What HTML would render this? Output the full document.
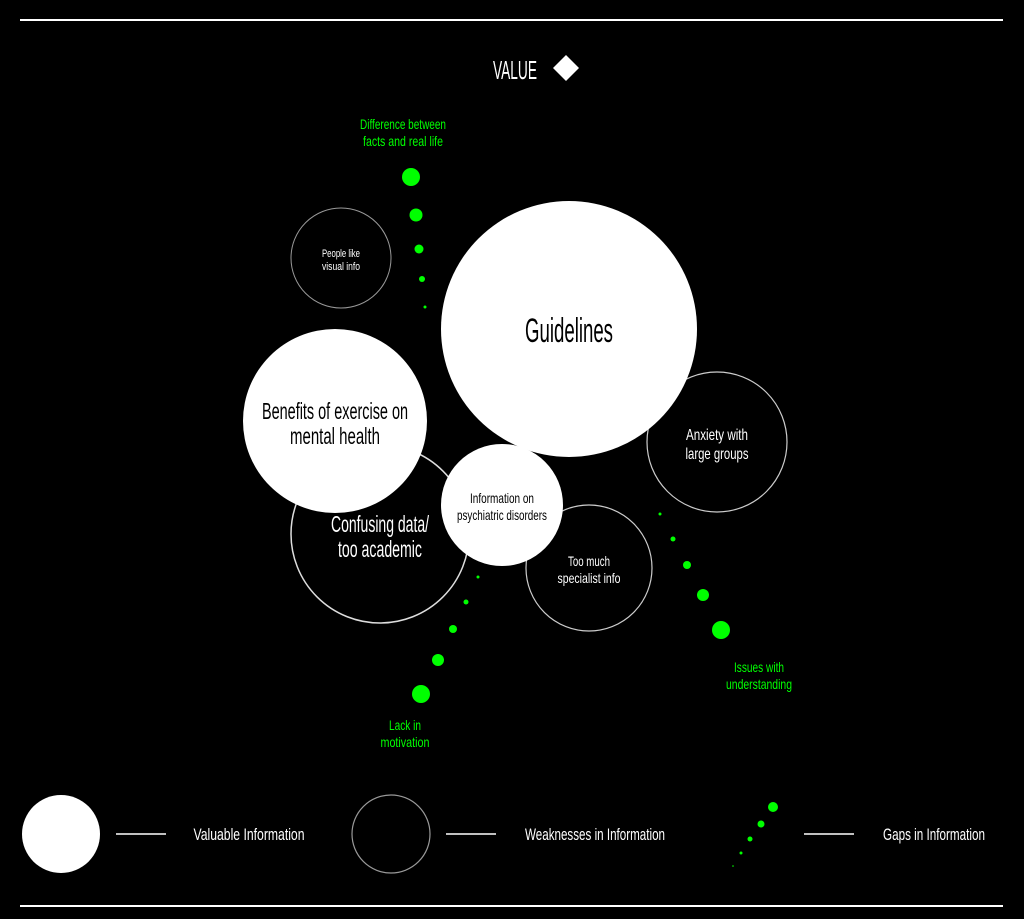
<!DOCTYPE html>
<html><head><meta charset="utf-8"><style>
html,body{margin:0;padding:0;background:#000;}
svg{display:block;}
text{font-family:"Liberation Sans Narrow","Liberation Sans",sans-serif;text-anchor:middle;}
</style></head><body>
<svg width="1024" height="919" viewBox="0 0 1024 919" xmlns="http://www.w3.org/2000/svg">
<rect width="1024" height="919" fill="#000"/>
<line x1="20" y1="20" x2="1003" y2="20" stroke="#fff" stroke-width="2"/>
<line x1="20" y1="906" x2="1003" y2="906" stroke="#fff" stroke-width="2"/>
<text x="515" y="79" fill="#fff" font-size="26" textLength="44" lengthAdjust="spacingAndGlyphs">VALUE</text>
<polygon points="566,55 579,68 566,81 553,68" fill="#fff"/>

<g fill="#00ff00" font-size="14">
<text x="403" y="129" textLength="86" lengthAdjust="spacingAndGlyphs">Difference between</text>
<text x="403" y="146" textLength="80" lengthAdjust="spacingAndGlyphs">facts and real life</text>
<text x="405" y="730" textLength="32" lengthAdjust="spacingAndGlyphs">Lack in</text>
<text x="405" y="747" textLength="49" lengthAdjust="spacingAndGlyphs">motivation</text>
<text x="759" y="672" textLength="50" lengthAdjust="spacingAndGlyphs">Issues with</text>
<text x="759" y="689" textLength="66" lengthAdjust="spacingAndGlyphs">understanding</text>
</g>
<g fill="#00ff00">
<circle cx="411" cy="177" r="9"/><circle cx="416" cy="215" r="6.5"/><circle cx="419" cy="249" r="4.5"/><circle cx="422" cy="279" r="3"/><circle cx="425" cy="307" r="1.5"/>
<circle cx="478" cy="577" r="1.5"/><circle cx="466" cy="602" r="2.5"/><circle cx="453" cy="629" r="4"/><circle cx="438" cy="660" r="6"/><circle cx="421" cy="694" r="9"/>
<circle cx="660" cy="514" r="1.5"/><circle cx="673" cy="539" r="2.5"/><circle cx="687" cy="565" r="4"/><circle cx="703" cy="595" r="6"/><circle cx="721" cy="630" r="9"/>
<circle cx="773" cy="807" r="5"/><circle cx="761" cy="824" r="3.5"/><circle cx="750" cy="839" r="2.5"/><circle cx="741" cy="853" r="1.5"/><circle cx="733" cy="866" r="0.8"/>
</g>

<circle cx="341" cy="258" r="50" fill="none" stroke="#999" stroke-width="1"/>
<text x="341" y="257" fill="#fff" font-size="11" textLength="38" lengthAdjust="spacingAndGlyphs">People like</text>
<text x="341" y="270" fill="#fff" font-size="11" textLength="38" lengthAdjust="spacingAndGlyphs">visual info</text>

<circle cx="717" cy="442" r="70" fill="none" stroke="#ccc" stroke-width="1.2"/>
<text x="717" y="440" fill="#fff" font-size="16" textLength="62" lengthAdjust="spacingAndGlyphs">Anxiety with</text>
<text x="717" y="459" fill="#fff" font-size="16" textLength="63" lengthAdjust="spacingAndGlyphs">large groups</text>

<circle cx="380" cy="534" r="89" fill="none" stroke="#ddd" stroke-width="1.5"/>
<circle cx="589" cy="568" r="63" fill="none" stroke="#ccc" stroke-width="1.2"/>
<text x="589" y="566" fill="#fff" font-size="14" textLength="42" lengthAdjust="spacingAndGlyphs">Too much</text>
<text x="589" y="583" fill="#fff" font-size="14" textLength="63" lengthAdjust="spacingAndGlyphs">specialist info</text>

<circle cx="569" cy="329" r="128" fill="#fff"/>
<text x="569" y="342" fill="#000" font-size="34" textLength="88" lengthAdjust="spacingAndGlyphs">Guidelines</text>

<circle cx="335" cy="421" r="92" fill="#fff"/>
<text x="335" y="419" fill="#000" font-size="23" textLength="146" lengthAdjust="spacingAndGlyphs">Benefits of exercise on</text>
<text x="335" y="444" fill="#000" font-size="23" textLength="90" lengthAdjust="spacingAndGlyphs">mental health</text>

<text x="380" y="532" fill="#fff" font-size="23" textLength="98" lengthAdjust="spacingAndGlyphs">Confusing data/</text>
<text x="380" y="557" fill="#fff" font-size="23" textLength="84" lengthAdjust="spacingAndGlyphs">too academic</text>

<circle cx="502" cy="505" r="61" fill="#fff"/>
<text x="502" y="503" fill="#000" font-size="14" textLength="64" lengthAdjust="spacingAndGlyphs">Information on</text>
<text x="502" y="520" fill="#000" font-size="14" textLength="90" lengthAdjust="spacingAndGlyphs">psychiatric disorders</text>

<ellipse cx="61" cy="834" rx="39" ry="39" fill="#fff"/>
<line x1="116" y1="834" x2="166" y2="834" stroke="#fff" stroke-width="1.5"/>
<text x="249" y="840" fill="#fff" font-size="17" textLength="111" lengthAdjust="spacingAndGlyphs">Valuable Information</text>
<ellipse cx="391" cy="834" rx="39" ry="39" fill="none" stroke="#999" stroke-width="1.2"/>
<line x1="446" y1="834" x2="496" y2="834" stroke="#fff" stroke-width="1.5"/>
<text x="595" y="840" fill="#fff" font-size="17" textLength="140" lengthAdjust="spacingAndGlyphs">Weaknesses in Information</text>
<line x1="804" y1="834" x2="854" y2="834" stroke="#fff" stroke-width="1.5"/>
<text x="934" y="840" fill="#fff" font-size="17" textLength="102" lengthAdjust="spacingAndGlyphs">Gaps in Information</text>
</svg>
</body></html>
